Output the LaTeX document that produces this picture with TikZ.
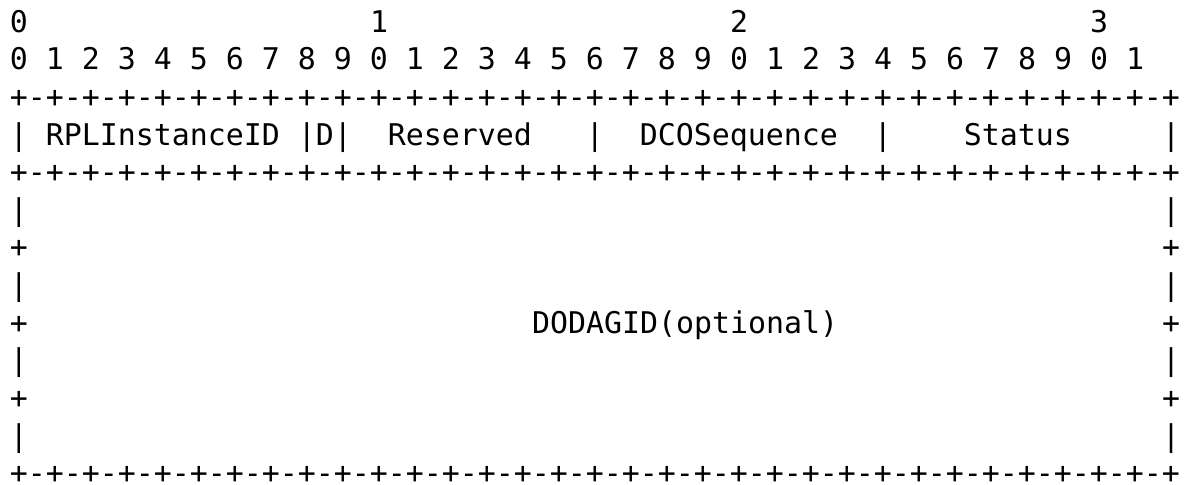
\documentclass[tikz,border=0pt]{standalone}
\usepackage{fontspec}
\usepackage{tikz}
\usetikzlibrary{positioning}
\newfontfamily\asciimono{DejaVu Sans Mono}
\newlength\charw
\newcommand\gap[1]{\hspace*{#1\charw}}
\newcommand\ruler{+\foreach\k in {1,...,32}{-+}}
\begin{document}
\begin{tikzpicture}[
    row/.style={%
      anchor=base west, inner sep=0pt, outer sep=0pt,
      font={\asciimono\fontsize{14.95pt}{18.8pt}\selectfont\settowidth\charw{0}}
    },
]
    \fill[white] (0,0) rectangle (593.5pt,-242.5pt);

    \node[row] (row0)  at (5pt,-16.2pt)   {0\gap{19}1\gap{19}2\gap{19}3};
    \node[row] (row1)  at (5pt,-35pt)     {0 1 2 3 4 5 6 7 8 9 0 1 2 3 4 5 6 7 8 9 0 1 2 3 4 5 6 7 8 9 0 1};
    \node[row] (row2)  at (5pt,-53.8pt)   {\ruler};
    \node[row] (row3)  at (5pt,-72.6pt)   {|\gap{1}RPLInstanceID\gap{1}|D|\gap{2}Reserved\gap{3}|\gap{2}DCOSequence\gap{2}|\gap{4}Status\gap{5}|};
    \node[row] (row4)  at (5pt,-91.4pt)   {\ruler};
    \node[row] (row5)  at (5pt,-110.2pt)  {|\gap{63}|};
    \node[row] (row6)  at (5pt,-129pt)    {+\gap{63}+};
    \node[row] (row7)  at (5pt,-147.8pt)  {|\gap{63}|};
    \node[row] (row8)  at (5pt,-166.6pt)  {+\gap{28}DODAGID(optional)\gap{18}+};
    \node[row] (row9)  at (5pt,-185.4pt)  {|\gap{63}|};
    \node[row] (row10) at (5pt,-204.2pt)  {+\gap{63}+};
    \node[row] (row11) at (5pt,-223pt)    {|\gap{63}|};
    \node[row] (row12) at (5pt,-241.8pt)  {\ruler};
\end{tikzpicture}
\end{document}
